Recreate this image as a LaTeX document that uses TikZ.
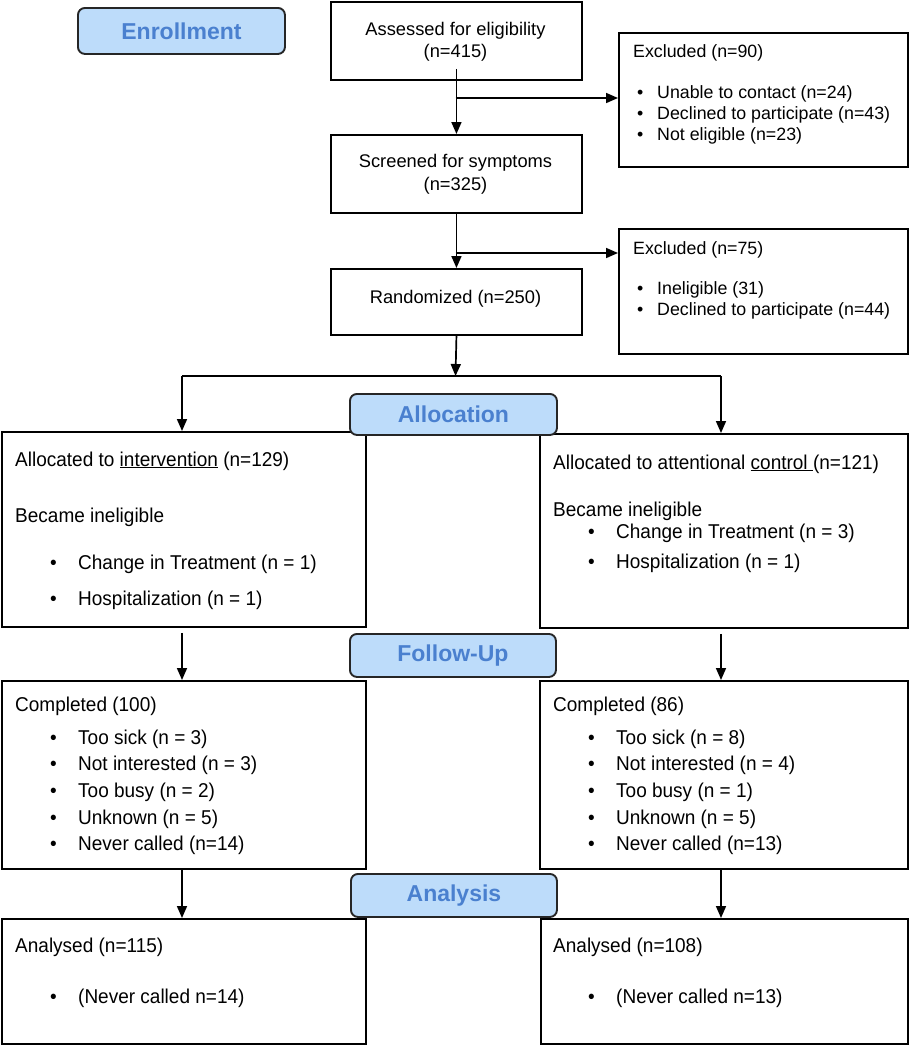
\documentclass[tikz,border=0pt]{standalone}
\usepackage{fontspec}
\setmainfont{Liberation Sans}
\newfontfamily\lowfont[FakeStretch=0.95]{Liberation Sans}
\usetikzlibrary{arrows.meta}
\definecolor{lblfill}{HTML}{BDDCFA}
\definecolor{lbltext}{HTML}{4A80CF}
\begin{document}
\begin{tikzpicture}[x=1pt,y=-1pt,
  box/.style={draw=black, line width=1.9pt, inner sep=0pt, anchor=north west},
  stagebox/.style={draw=black!85, line width=1.9pt, fill=lblfill, rounded corners=7pt,
    inner sep=0pt, anchor=north west, text=lbltext, font=\fontsize{23}{26}\selectfont\bfseries},
  arr/.style={line width=1.7pt, -{Triangle[length=12pt,width=10pt]}},
  ln/.style={line width=1.7pt},
  ttop/.style={anchor=base west, inner sep=0pt, font=\fontsize{17.8}{21}\selectfont},
  ctop/.style={anchor=base, inner sep=0pt, font=\fontsize{18.3}{21}\selectfont},
  tlow/.style={anchor=base west, inner sep=0pt, font=\lowfont\fontsize{20}{22}\selectfont}
]
\useasboundingbox (0,0) rectangle (910,1050);

% ---------- boxes ----------
\node[box, minimum width=251pt, minimum height=78pt] (assess) at (330,1) {};
\node[box, minimum width=251pt, minimum height=78pt] (screen) at (330,134) {};
\node[box, minimum width=251pt, minimum height=66pt] (rand) at (330,268) {};
\node[box, minimum width=289pt, minimum height=134pt] (excl1) at (618,32) {};
\node[box, minimum width=289pt, minimum height=125pt] (excl2) at (618,228) {};

\node[box, minimum width=364pt, minimum height=195pt] (la) at (1,431) {};
\node[box, minimum width=368pt, minimum height=194pt] (ra) at (539,433) {};
\node[box, minimum width=364pt, minimum height=188pt] (lc) at (1,680) {};
\node[box, minimum width=368pt, minimum height=188pt] (rc) at (539,680) {};
\node[box, minimum width=364pt, minimum height=125pt] (lan) at (1,918) {};
\node[box, minimum width=367pt, minimum height=125pt] (ran) at (540,918) {};

% ---------- stage labels ----------
\node[stagebox, minimum width=207pt, minimum height=46pt] (enroll) at (77,7) {Enrollment};
\node[stagebox, minimum width=207pt, minimum height=41pt] (alloc) at (349,393) {Allocation};
\node[stagebox, minimum width=206pt, minimum height=43pt] (follow) at (349,633) {Follow-Up};
\node[stagebox, minimum width=206pt, minimum height=43pt] (anal) at (350,873) {Analysis};

% ---------- texts: enrollment ----------
\node[ctop] (t1) at (455.5,35) {Assessed for eligibility};
\node[ctop] (t2) at (455.5,57) {(n=415)};
\node[ctop] (t3) at (455.5,167) {Screened for symptoms};
\node[ctop] (t4) at (455.5,190) {(n=325)};
\node[ctop] (t5) at (455.5,303) {Randomized (n=250)};

\node[ttop] (e1) at (633,57) {Excluded (n=90)};
\node[ttop] (e1b1) at (637,98) {•};
\node[ttop] (e1a) at (657,98) {Unable to contact (n=24)};
\node[ttop] (e1b2) at (637,119) {•};
\node[ttop] (e1b) at (657,119) {Declined to participate (n=43)};
\node[ttop] (e1b3) at (637,140) {•};
\node[ttop] (e1c) at (657,140) {Not eligible (n=23)};

\node[ttop] (e2) at (633,254) {Excluded (n=75)};
\node[ttop] (e2b1) at (637,294) {•};
\node[ttop] (e2a) at (657,294) {Ineligible (31)};
\node[ttop] (e2b2) at (637,315) {•};
\node[ttop] (e2b) at (657,315) {Declined to participate (n=44)};

% ---------- texts: allocation ----------
\node[tlow] (la1) at (15,466) {Allocated to \underline{intervention} (n=129)};
\node[tlow] (la2) at (15,522) {Became ineligible};
\node[tlow] (la3b) at (50,569) {•};
\node[tlow] (la3) at (78,569) {Change in Treatment (n = 1)};
\node[tlow] (la4b) at (50,605) {•};
\node[tlow] (la4) at (78,605) {Hospitalization (n = 1)};

\node[tlow] (ra1) at (553,469) {Allocated to attentional \underline{control\ }(n=121)};
\node[tlow] (ra2) at (553,516) {Became ineligible};
\node[tlow] (ra3b) at (588,538) {•};
\node[tlow] (ra3) at (616,538) {Change in Treatment (n = 3)};
\node[tlow] (ra4b) at (588,568) {•};
\node[tlow] (ra4) at (616,568) {Hospitalization (n = 1)};

% ---------- texts: follow-up ----------
\node[tlow] (lc0) at (15,711) {Completed (100)};
\foreach \yy/\tx [count=\i] in {744/Too sick (n = 3),770/Not interested (n = 3),797/Too busy (n = 2),824/Unknown (n = 5),850/Never called (n=14)}{
  \node[tlow] (lcb\i) at (50,\yy) {•};
  \node[tlow] (lct\i) at (78,\yy) {\tx};
}
\node[tlow] (rc0) at (553,711) {Completed (86)};
\foreach \yy/\tx [count=\i] in {744/Too sick (n = 8),770/Not interested (n = 4),797/Too busy (n = 1),824/Unknown (n = 5),850/Never called (n=13)}{
  \node[tlow] (rcb\i) at (588,\yy) {•};
  \node[tlow] (rct\i) at (616,\yy) {\tx};
}

% ---------- texts: analysis ----------
\node[tlow] (lan1) at (15,952) {Analysed (n=115)};
\node[tlow] (lan2b) at (50,1003) {•};
\node[tlow] (lan2) at (78,1003) {(Never called n=14)};
\node[tlow] (ran1) at (553,952) {Analysed (n=108)};
\node[tlow] (ran2b) at (588,1003) {•};
\node[tlow] (ran2) at (616,1003) {(Never called n=13)};

% ---------- connectors ----------
\coordinate (b1) at (455.5,98);
\coordinate (b2) at (455.5,253);
\coordinate (j) at (455.5,376);
\coordinate (jl) at (182,376);
\coordinate (jr) at (721,376);

\draw[arr] ([yshift=12pt]assess.south) -- (screen.north);
\draw[arr] (b1) -- (b1 -| excl1.west);
\draw[arr] (screen.south) -- (rand.north);
\draw[arr] (b2) -- (b2 -| excl2.west);
\draw[arr] (rand.south) -- (j);
\draw[ln] (jl) -- (jr);
\draw[arr] (jl) -- (jl |- la.north);
\draw[arr] (jr) -- (jr |- ra.north);
\draw[arr] ([yshift=-5pt]la.south -| jl) -- (lc.north -| jl);
\draw[arr] ([yshift=-5pt]ra.south -| jr) -- (rc.north -| jr);
\draw[arr] (lc.south -| jl) -- (lan.north -| jl);
\draw[arr] (rc.south -| jr) -- (ran.north -| jr);
\end{tikzpicture}
\end{document}
